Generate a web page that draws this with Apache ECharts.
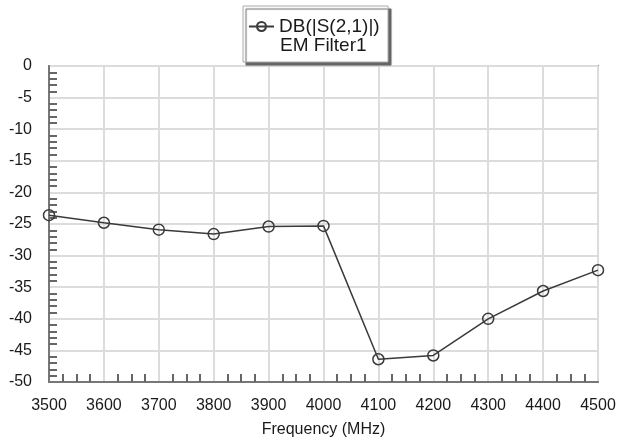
<!DOCTYPE html>
<html>
<head>
<meta charset="utf-8">
<script src="https://cdn.jsdelivr.net/npm/echarts@6/dist/echarts.min.js"></script>
<style>html,body{margin:0;padding:0;background:#fff;}#c{width:617px;height:441px;}</style>
</head>
<body>
<div id="c"></div>
<script>
const frequencies = [3500, 3600, 3700, 3800, 3900, 4000, 4100, 4200, 4300, 4400, 4500];
const s21dB = [-23.6, -24.8, -25.9, -26.6, -25.4, -25.3, -46.4, -45.8, -40.0, -35.6, -32.3];
const seriesName = 'DB(|S(2,1)|)';
const seriesSub = 'EM Filter1';
const xAxisName = 'Frequency (MHz)';

const chart = echarts.init(document.getElementById('c'), null, {renderer: 'canvas'});
const font = 'Liberation Sans, Arial, sans-serif';
chart.setOption({
  backgroundColor: '#fff',
  animation: false,
  grid: {left: 49, right: 19, top: 66, bottom: 59, containLabel: false, outerBoundsMode: 'none',
         show: true, borderColor: '#8a8a8a', borderWidth: 2, backgroundColor: 'transparent'},
  xAxis: {
    type: 'value', min: 3500, max: 4500, interval: 100,
    name: xAxisName, nameLocation: 'middle', nameGap: 40,
    nameTextStyle: {fontFamily: font, fontSize: 16, color: '#1a1a1a'},
    axisLine: {show: true, onZero: false, lineStyle: {color: '#777', width: 2}},
    axisTick: {show: false},
    minorTick: {show: true, splitNumber: 4, length: -8, lineStyle: {color: '#666', width: 2}},
    axisLabel: {fontFamily: font, fontSize: 16, color: '#1a1a1a', margin: 16, formatter: v => String(v)},
    splitLine: {show: true, lineStyle: {color: '#dcdcdc', width: 2}},
    minorSplitLine: {show: false}
  },
  yAxis: {
    type: 'value', min: -50, max: 0, interval: 5,
    axisLine: {show: true, onZero: false, lineStyle: {color: '#777', width: 2}},
    axisTick: {show: false},
    minorTick: {show: true, splitNumber: 5, length: -8, lineStyle: {color: '#666', width: 2}},
    axisLabel: {fontFamily: font, fontSize: 16, color: '#1a1a1a', margin: 17},
    splitLine: {show: true, lineStyle: {color: '#dcdcdc', width: 2}}
  },
  legend: {
    show: true, left: 248, top: 17, padding: 0, itemWidth: 25, itemHeight: 12, itemGap: 5,
    z: 10,
    textStyle: {fontFamily: font, fontSize: 19, color: '#1a1a1a'},
    data: [{name: seriesName, icon: 'path://M0,6 L25,6 M12.5,1.5 A4.5,4.5 0 1,0 12.51,1.5 Z'}]
  },
  graphic: [
    {type: 'rect', z: 5, shape: {x: 243, y: 6, width: 145, height: 56},
     style: {fill: '#fff', stroke: '#aaa', lineWidth: 1, shadowColor: '#666', shadowOffsetX: 3, shadowOffsetY: 3, shadowBlur: 1}},
    {type: 'text', z: 6, style: {x: 280, y: 46, text: seriesSub, fontFamily: font, fontSize: 19, fill: '#1a1a1a', verticalAlign: 'middle'}}
  ],
  series: [{
    name: seriesName, type: 'line',
    data: frequencies.map((f, i) => [f, s21dB[i]]),
    symbol: 'circle', symbolSize: 11, showAllSymbol: true, clip: false,
    lineStyle: {color: '#3a3a3a', width: 1.5},
    itemStyle: {color: 'transparent', borderColor: '#3a3a3a', borderWidth: 1.5},
    emphasis: {disabled: true}
  }]
});
</script>
</body>
</html>
